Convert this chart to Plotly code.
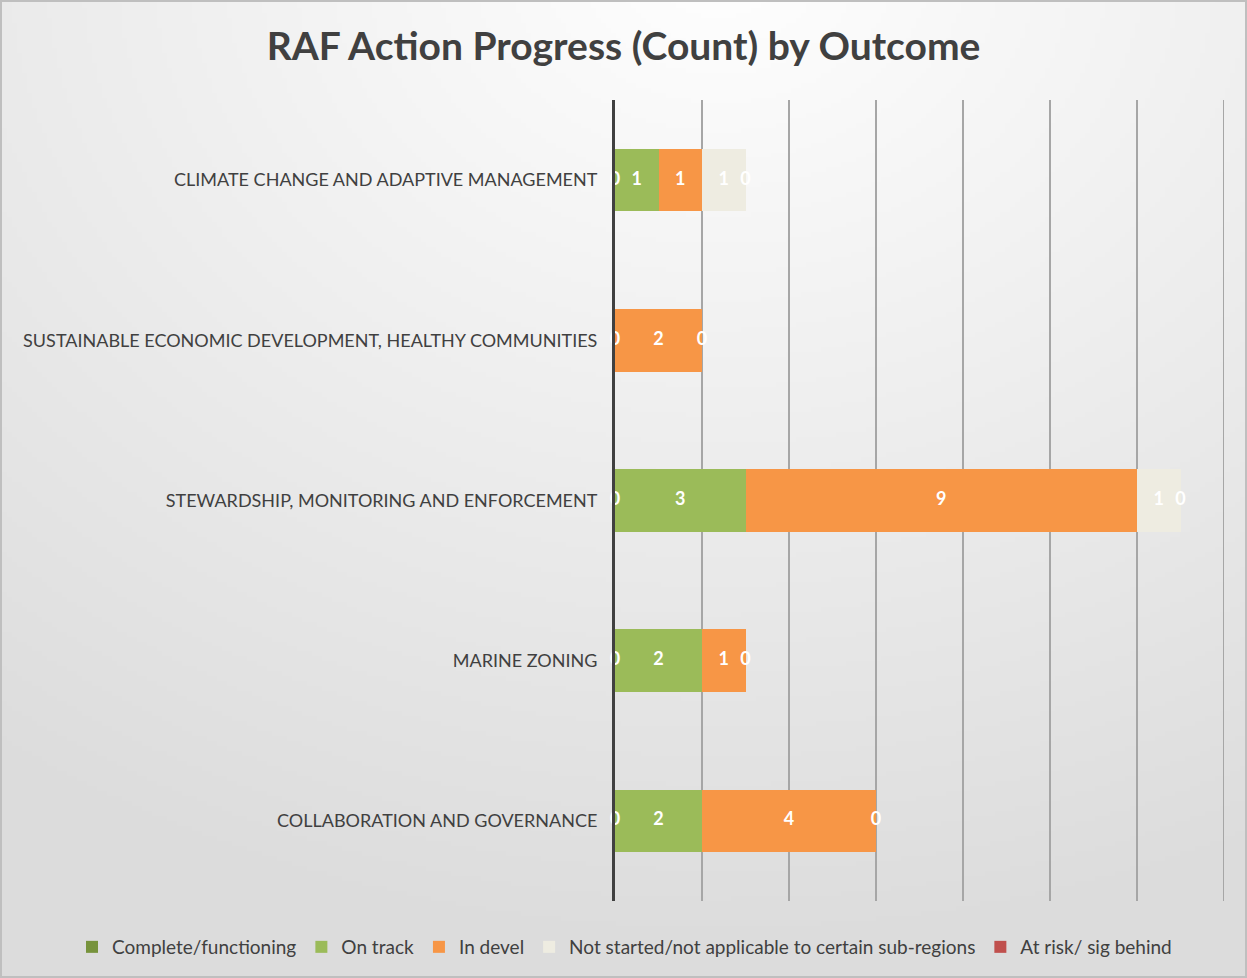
import base64, struct, zlib
import numpy as np
import plotly.graph_objects as go

# ---------------- data ----------------
categories = [
    "COLLABORATION AND GOVERNANCE",
    "MARINE ZONING",
    "STEWARDSHIP, MONITORING AND ENFORCEMENT",
    "SUSTAINABLE ECONOMIC DEVELOPMENT, HEALTHY COMMUNITIES",
    "CLIMATE CHANGE AND ADAPTIVE MANAGEMENT",
]
series_names = [
    "Complete/functioning",
    "On track",
    "In devel",
    "Not started/not applicable to certain sub-regions",
    "At risk/ sig behind",
]
complete_functioning = [0, 0, 0, 0, 0]
on_track = [2, 2, 3, None, 1]
in_devel = [4, 1, 9, 2, 1]
not_started = [None, None, 1, None, 1]
at_risk = [0, 0, 0, 0, 0]

x_max = 14

series_values = [complete_functioning, on_track, in_devel, not_started, at_risk]
series_colors = ["#77933c", "#9bbb59", "#f79646", "#eeece1", "#c0504d"]

# ---------------- figure geometry ----------------
W, H = 1247, 978
ML, MR, MT, MB = 615, 23, 100, 77
PW, PH = W - ML - MR, H - MT - MB

# background gradient image (white near top centre, grey toward edges)
gw, gh = 250, 196
yy, xx = np.mgrid[0:gh, 0:gw]
X = xx / (gw - 1) * W
Y = yy / (gh - 1) * H
d = np.sqrt(((X - 720) / 1.25) ** 2 + ((Y + 40) / 1.0) ** 2)
t = np.clip(d / 1000.0, 0, 1)
g = (255 - 35 * t).astype(np.uint8)
raw = b"".join(b"\x00" + g[r].tobytes() for r in range(gh))


def chunk(tag, data):
    c = struct.pack(">I", len(data)) + tag + data
    return c + struct.pack(">I", zlib.crc32(tag + data) & 0xFFFFFFFF)


png = (b"\x89PNG\r\n\x1a\n" + chunk(b"IHDR", struct.pack(">IIBBBBB", gw, gh, 8, 0, 0, 0, 0))
       + chunk(b"IDAT", zlib.compress(raw, 9)) + chunk(b"IEND", b""))
bg_uri = "data:image/png;base64," + base64.b64encode(png).decode()

fig = go.Figure()

for name, vals, col in zip(series_names, series_values, series_colors):
    fig.add_trace(go.Bar(
        y=categories, x=[v if v is not None else 0 for v in vals], name=name,
        orientation="h", marker=dict(color=col, line=dict(width=0)),
        hoverinfo="x+name",
    ))

# data labels (including zero-valued segments, as in the original)
lx, ly, lt = [], [], []
for i, cat in enumerate(categories):
    cum = 0
    for vals in series_values:
        v = vals[i]
        if v is None:
            continue
        lx.append(cum + v / 2)
        ly.append(cat)
        lt.append(str(v))
        cum += v
fig.add_trace(go.Scatter(
    x=lx, y=ly, text=lt, mode="text", showlegend=False, hoverinfo="skip",
    textfont=dict(family="Lato", size=18, color="white", weight="bold"),
    cliponaxis=False,
))

fig.update_layout(
    width=W, height=H,
    barmode="stack", bargap=0.61,
    margin=dict(l=ML, r=MR, t=MT, b=MB, autoexpand=False),
    paper_bgcolor="#e6e6e6", plot_bgcolor="rgba(0,0,0,0)",
    title=dict(text="<b>RAF Action Progress (Count) by Outcome</b>",
               x=0.5, xref="container", xanchor="center",
               y=1 - 46 / H, yref="container", yanchor="middle",
               font=dict(family="Lato", size=39, color="#404040")),
    xaxis=dict(range=[0, x_max], dtick=2, showticklabels=False, showgrid=True,
               gridcolor="#a6a6a6", gridwidth=2, zeroline=False, showline=False,
               fixedrange=True),
    yaxis=dict(showgrid=False, showline=True, linecolor="#404040", linewidth=3,
               ticks="", ticklabelstandoff=11,
               tickfont=dict(family="Lato", size=18, color="#404040"),
               fixedrange=True),
    legend=dict(orientation="h", xref="paper", x=(72 - ML) / PW, xanchor="left",
                yref="paper", y=-(947 - MT - PH) / PH, yanchor="middle",
                font=dict(family="Lato", size=19, color="#404040"),
                bgcolor="rgba(0,0,0,0)", traceorder="normal", itemwidth=30),
    images=[dict(source=bg_uri, xref="paper", yref="paper",
                 x=-ML / PW, y=1 + MT / PH, sizex=W / PW, sizey=H / PH,
                 xanchor="left", yanchor="top", sizing="stretch", layer="below")],
    shapes=[
        dict(type="rect", xref="paper", yref="paper",
             x0=-ML / PW + 1 / PW, x1=1 + MR / PW - 1 / PW,
             y0=-MB / PH + 1 / PH, y1=1 + MT / PH - 1 / PH,
             line=dict(color="#bfbfbf", width=2), layer="below"),
        # last gridline at the end of the value axis
        dict(type="line", xref="x", yref="paper", x0=x_max, x1=x_max, y0=0, y1=1,
             line=dict(color="#a6a6a6", width=2), layer="below"),
    ],
)

fig.write_html("out.html")
